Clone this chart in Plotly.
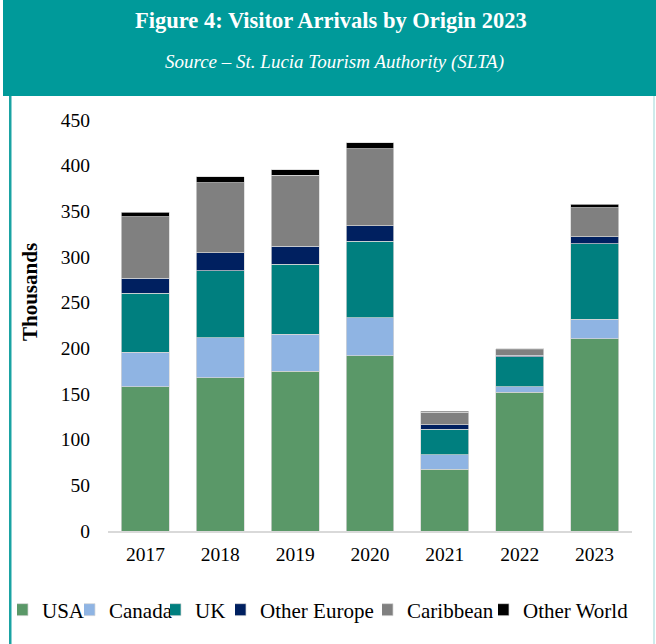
import plotly.graph_objects as go

years = ["2017", "2018", "2019", "2020", "2021", "2022", "2023"]
usa = [158, 168, 175, 192, 67.4, 152, 210.4]
canada = [37.9, 43.5, 40.5, 41.3, 16.1, 5.8, 21.5]
uk = [64.6, 73.3, 76.5, 83.9, 28.1, 32.8, 82.7]
other_europe = [16.0, 19.7, 20.0, 17.0, 5.0, 1.9, 7.7]
caribbean = [67.8, 76.9, 77.7, 84.2, 13.2, 6.1, 31.4]
other_world = [4.8, 6.2, 6.0, 6.6, 1.1, 1.1, 4.1]

series = [
    ("USA", usa, "#5A9868"),
    ("Canada", canada, "#8FB4E3"),
    ("UK", uk, "#007F7F"),
    ("Other Europe", other_europe, "#002060"),
    ("Caribbean", caribbean, "#808080"),
    ("Other World", other_world, "#000000"),
]
# pixel x where each legend label starts
legend_text_x = [42, 109, 195, 260, 407, 523]

W, H = 656, 644
L, R, T, B = 108, 24, 120, 113
pw, ph = W - L - R, H - T - B


def px(x):
    return (x - L) / pw


def py(y):
    return (H - B - y) / ph


FONT = "Liberation Serif, Times New Roman, serif"
IND = -15
TEXT_OFF = 40 + IND

fig = go.Figure()
legends = {}
for i, (name, vals, col) in enumerate(series):
    lid = "legend" if i == 0 else f"legend{i + 1}"
    fig.add_trace(go.Bar(
        x=years, y=vals, name=name, legend=lid,
        marker=dict(color=col, line=dict(color="rgba(215,215,215,0.9)", width=0.8)),
    ))
    legends[lid] = dict(
        orientation="h", x=px(legend_text_x[i] - TEXT_OFF), xanchor="left",
        y=py(610), yanchor="middle", indentation=IND, itemwidth=30,
        font=dict(family=FONT, size=21, color="black"),
        bgcolor="rgba(0,0,0,0)", borderwidth=0,
    )

shapes = [
    dict(type="rect", xref="paper", yref="paper", x0=px(3), x1=px(656), y0=py(96), y1=py(0),
         fillcolor="#009A9A", line=dict(width=0), layer="below"),
    dict(type="rect", xref="paper", yref="paper", x0=px(9), x1=px(11.5), y0=py(644), y1=py(96),
         fillcolor="#1AA3A3", line=dict(width=0), layer="below"),
    dict(type="rect", xref="paper", yref="paper", x0=px(653), x1=px(655), y0=py(644), y1=py(96),
         fillcolor="#CDEBEB", line=dict(width=0), layer="below"),
]

annotations = [
    dict(text="<b>Figure 4: Visitor Arrivals by Origin 2023</b>", xref="paper", yref="paper",
         x=px(331), y=py(20), showarrow=False, xanchor="center", yanchor="middle",
         font=dict(family=FONT, size=22.5, color="white")),
    dict(text="<i>Source – St. Lucia Tourism Authority (SLTA)</i>", xref="paper", yref="paper",
         x=px(334), y=py(62), showarrow=False, xanchor="center", yanchor="middle",
         font=dict(family=FONT, size=19, color="white")),
    dict(text="<b>Thousands</b>", xref="paper", yref="paper", x=px(30), y=py(292),
         showarrow=False, textangle=-90, xanchor="center", yanchor="middle",
         font=dict(family=FONT, size=21, color="black")),
]

fig.update_layout(
    width=W, height=H,
    margin=dict(l=L, r=R, t=T, b=B, autoexpand=False),
    barmode="stack",
    bargap=0.36,
    paper_bgcolor="white",
    plot_bgcolor="white",
    font=dict(family=FONT, color="black"),
    shapes=shapes,
    annotations=annotations,
    showlegend=True,
    **legends,
)
fig.update_xaxes(showline=True, linecolor="#D9D9D9", linewidth=1.5, showgrid=False,
                 ticks="", tickfont=dict(family=FONT, size=19.5, color="black"),
                 ticklabelstandoff=5)
fig.update_yaxes(range=[0, 450], dtick=50, showline=False, showgrid=False, zeroline=False,
                 ticks="", tickfont=dict(family=FONT, size=19.5, color="black"),
                 ticklabelstandoff=17)

fig.write_html("out.html", config={"displayModeBar": False},
               post_script="document.body.style.margin='0px';")
